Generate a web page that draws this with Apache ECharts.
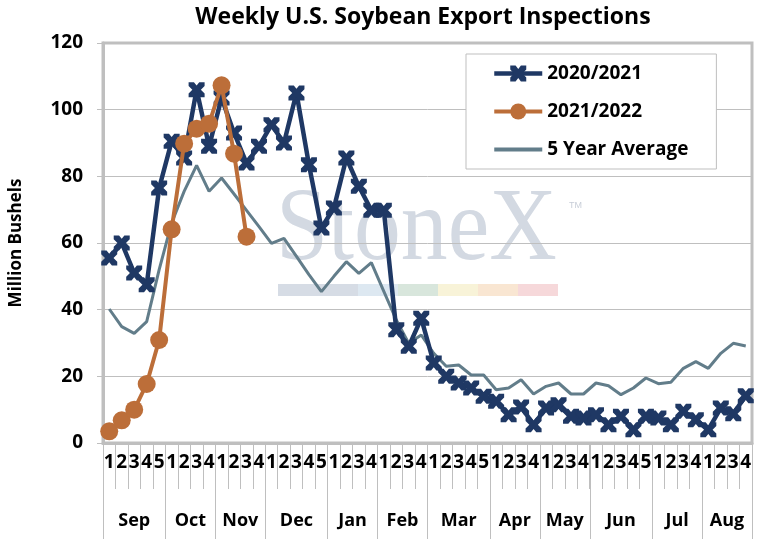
<!DOCTYPE html>
<html>
<head>
<meta charset="utf-8">
<script src="https://cdn.jsdelivr.net/npm/echarts@6/dist/echarts.min.js"></script>
<style>
  html, body { margin: 0; padding: 0; background: #fff; }
  #chart { width: 761px; height: 539px; }
</style>
</head>
<body>
<div id="chart"></div>
<script>
// weeks per month, Sep .. Aug
var monthNames = ['Sep', 'Oct', 'Nov', 'Dec', 'Jan', 'Feb', 'Mar', 'Apr', 'May', 'Jun', 'Jul', 'Aug'];
var monthWeeks = [5, 4, 4, 5, 4, 4, 5, 4, 4, 5, 4, 4];

// million bushels, one value per week
var season2021 = [
  55.5, 60, 51, 47.5, 76.5, 90.5, 85.5, 106, 89, 103.5, 93, 84, 89,
  95.5, 90, 105, 83.5, 64.5, 70.5, 85.5, 77, 69.8, 69.8, 34, 29, 37.4,
  24, 20, 18, 16.5, 14, 12.5, 8.5, 10.8, 5.5, 10.5, 11.5, 8, 7.5,
  8.5, 5.5, 8, 4, 8, 7.5, 5.5, 9.5, 7, 4, 10.5, 8.8, 14.2
];
var season2122 = [3.5, 6.8, 10, 17.7, 30.9, 64.1, 89.8, 94.3, 95.8, 107.3, 86.8, 61.9];
var fiveYearAvg = [
  40.2, 34.9, 32.9, 36.4, 52, 66, 75.5, 83.3, 75.5, 79.5, 74.7, 69.8, 64.9,
  59.9, 61.4, 56, 50.5, 45.4, 50, 54.4, 50.9, 54.1, 45.5, 36.9, 29.9, 32.4,
  26.9, 23, 23.4, 20.4, 20.4, 16, 16.5, 19, 14.7, 17, 18, 14.7, 14.7,
  18, 17.2, 14.5, 16.5, 19.5, 17.8, 18.2, 22.4, 24.4, 22.4, 26.9, 29.9, 29.1
];

// week labels 1..n inside each month, and month boundaries / centres
var weekLabels = [];
var monthEdges = [0];
var monthMids = [];
var pos = 0;
for (var m = 0; m < monthWeeks.length; m++) {
  for (var w = 1; w <= monthWeeks[m]; w++) {
    weekLabels.push(String(w));
  }
  monthMids.push(pos + monthWeeks[m] / 2);
  pos += monthWeeks[m];
  monthEdges.push(pos);
}

var FONT = 'Open Sans';
var GRAY = '#bfbfbf';
var xMark = 'path://M0,0 H4 L6,2.6 L8,0 H12 V3 L9.2,6 L12,9 V12 H8 L6,9.4 L4,12 H0 V9 L2.8,6 L0,3 Z';

var chart = echarts.init(document.getElementById('chart'));
var option = {
  animation: false,
  title: {
    text: 'Weekly U.S. Soybean Export Inspections',
    left: 418,
    textAlign: 'center',
    top: 1,
    textStyle: { fontFamily: FONT, fontSize: 23, fontWeight: 'bold', color: '#000' }
  },
  legend: {
    left: 466,
    top: 54,
    orient: 'vertical',
    padding: [10, 28, 10, 26],
    itemWidth: 48,
    itemHeight: 20,
    itemGap: 19,
    borderColor: GRAY,
    borderWidth: 1,
    backgroundColor: '#fff',
    lineStyle: { width: 'inherit' },
    textStyle: { fontFamily: FONT, fontSize: 19, fontWeight: 'bold', color: '#000' },
    data: [
      '2020/2021',
      '2021/2022',
      { name: '5 Year Average', icon: 'path://M0,0 H48 V4 H0 Z' }
    ]
  },
  grid: {
    left: 102,
    right: 9,
    top: 43,
    bottom: 96,
    show: true,
    borderColor: GRAY,
    borderWidth: 3
  },
  graphic: [
    {
      type: 'text', left: 276, top: 180, z: -1, scaleX: 0.9,
      style: { text: 'StoneX', fontFamily: 'Liberation Serif', fontSize: 104, fill: '#d3d9e2' }
    },
    {
      type: 'text', left: 569, top: 201, z: -1,
      style: { text: 'TM', fontFamily: 'Liberation Sans', fontSize: 9, fill: '#c8ced8' }
    },
    { type: 'rect', left: 278, top: 284, z: -1, shape: { width: 80, height: 12 }, style: { fill: '#d6dce5' } },
    { type: 'rect', left: 358, top: 284, z: -1, shape: { width: 40, height: 12 }, style: { fill: '#dde8f1' } },
    { type: 'rect', left: 398, top: 284, z: -1, shape: { width: 40, height: 12 }, style: { fill: '#d8e6dc' } },
    { type: 'rect', left: 438, top: 284, z: -1, shape: { width: 40, height: 12 }, style: { fill: '#f8f3d8' } },
    { type: 'rect', left: 478, top: 284, z: -1, shape: { width: 40, height: 12 }, style: { fill: '#f9e6d2' } },
    { type: 'rect', left: 518, top: 284, z: -1, shape: { width: 40, height: 12 }, style: { fill: '#f6d8da' } }
  ],
  xAxis: [
    {
      type: 'category',
      data: weekLabels,
      boundaryGap: true,
      axisLine: { show: true, lineStyle: { color: GRAY, width: 3 } },
      axisTick: { show: true, interval: 0, length: 46, lineStyle: { color: GRAY, width: 1 } },
      axisLabel: {
        interval: 0, margin: 10,
        fontFamily: FONT, fontSize: 19, fontWeight: 'bold', color: '#000'
      },
      splitLine: { show: false }
    },
    {
      type: 'value',
      position: 'bottom',
      min: 0,
      max: monthEdges[monthEdges.length - 1],
      axisLine: { show: false },
      splitLine: { show: false },
      axisTick: {
        show: true, length: 96, customValues: monthEdges,
        lineStyle: { color: GRAY, width: 1 }
      },
      axisLabel: {
        show: true, margin: 69, customValues: monthMids,
        fontFamily: FONT, fontSize: 18, fontWeight: 'bold', color: '#000',
        formatter: function (v) {
          var i = monthMids.indexOf(v);
          return i >= 0 ? monthNames[i] : '';
        }
      }
    }
  ],
  yAxis: {
    type: 'value',
    min: 0,
    max: 120,
    interval: 20,
    name: 'Million Bushels',
    nameLocation: 'middle',
    nameRotate: 90,
    nameGap: 78,
    nameTextStyle: { fontFamily: FONT, fontSize: 17, fontWeight: 'bold', color: '#000' },
    axisLine: { show: true, lineStyle: { color: GRAY, width: 3 } },
    axisTick: { show: true, length: 6, lineStyle: { color: GRAY } },
    axisLabel: { margin: 20, fontFamily: FONT, fontSize: 19, fontWeight: 'bold', color: '#000' },
    splitLine: { show: true, lineStyle: { color: GRAY, width: 1 } }
  },
  series: [
    {
      name: '2020/2021',
      type: 'line',
      data: season2021,
      color: '#1f3864',
      lineStyle: { width: 4.5 },
      symbol: xMark,
      symbolSize: [16, 15],
      showAllSymbol: true,
      z: 3
    },
    {
      name: '2021/2022',
      type: 'line',
      data: season2122,
      color: '#bc6e39',
      lineStyle: { width: 4 },
      symbol: 'circle',
      symbolSize: 18,
      showAllSymbol: true,
      z: 4
    },
    {
      name: '5 Year Average',
      type: 'line',
      data: fiveYearAvg,
      color: '#627d8a',
      lineStyle: { width: 3 },
      symbol: 'none',
      z: 2
    }
  ]
};
chart.setOption(option);
</script>
</body>
</html>
